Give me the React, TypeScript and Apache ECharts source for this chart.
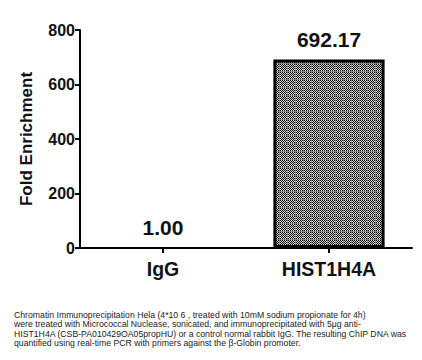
import React, { useEffect, useRef } from "react";
import * as echarts from "echarts";

const categories = ["IgG", "HIST1H4A"];
const values = [1.0, 692.17];
const valueLabels = ["1.00", "692.17"];
const yTicks = { min: 0, max: 800, interval: 200 };
const yAxisName = "Fold Enrichment";
const captionLines = [
  "Chromatin Immunoprecipitation Hela (4*10 6 , treated with 10mM sodium propionate for 4h)",
  "were treated with Micrococcal Nuclease, sonicated, and immunoprecipitated with 5\u03bcg anti-",
  "HIST1H4A (CSB-PA010429OA05propHU) or a control normal rabbit IgG. The resulting ChIP DNA was",
  "quantified using real-time PCR with primers against the \u03b2-Globin promoter.",
];

function makePattern(): HTMLCanvasElement {
  const n = 8;
  const c = document.createElement("canvas");
  c.width = n;
  c.height = n;
  const ctx = c.getContext("2d")!;
  ctx.fillStyle = "#d8d8d8";
  ctx.fillRect(0, 0, n, n);
  for (let y = 0; y < n; y++) {
    for (let x = 0; x < n; x++) {
      if ((x + y) % 2 === 0) {
        ctx.fillStyle = "#000000";
        ctx.fillRect(x, y, 1, 1);
      }
    }
  }
  ctx.fillStyle = "#8a8a8a";
  ctx.fillRect(n - 1, 0, 1, n);
  ctx.fillRect(0, n - 1, n, 1);
  return c;
}

export default function App() {
  const ref = useRef<HTMLDivElement>(null);
  useEffect(() => {
    if (!ref.current) return;
    const chart = echarts.init(ref.current, null, { renderer: "svg" });
    const pattern = makePattern();
    const font = "Liberation Sans";
    chart.setOption({
      animation: false,
      backgroundColor: "#ffffff",
      grid: { left: 80, right: 10, top: 30, bottom: 112 },
      xAxis: {
        type: "category",
        data: categories,
        axisLine: { lineStyle: { color: "#000", width: 2 } },
        axisTick: { show: true, alignWithLabel: true, length: 5, lineStyle: { color: "#000", width: 2 } },
        axisLabel: { color: "#111", fontFamily: font, fontWeight: "bold", fontSize: 19.5, margin: 11 },
      },
      yAxis: {
        type: "value",
        min: yTicks.min,
        max: yTicks.max,
        interval: yTicks.interval,
        name: yAxisName,
        nameLocation: "middle",
        nameGap: 45,
        nameTextStyle: { color: "#111", fontFamily: font, fontWeight: "bold", fontSize: 17 },
        splitLine: { show: false },
        axisLine: { show: true, lineStyle: { color: "#000", width: 2 } },
        axisTick: { show: true, length: 5, lineStyle: { color: "#000", width: 2 } },
        axisLabel: { color: "#111", fontFamily: font, fontWeight: "bold", fontSize: 16, margin: 5 },
      },
      series: [
        {
          type: "bar",
          data: values.map((v, i) => ({
            value: v,
            itemStyle:
              i === 0
                ? { color: "#ffffff", borderColor: "#000", borderWidth: 1 }
                : { color: { image: pattern, repeat: "repeat" }, borderColor: "#000", borderWidth: 3 },
          })),
          barWidth: "67%",
          label: {
            show: true,
            position: "top",
            distance: 9,
            color: "#111",
            fontFamily: font,
            fontWeight: "bold",
            fontSize: 21,
            formatter: (p: any) => valueLabels[p.dataIndex],
          },
        },
      ],
      graphic: captionLines.map((t, i) => ({
        type: "text",
        left: 14,
        top: 310 + i * 9.6,
        style: { text: t, fill: "#222", font: `8.7px ${font}` },
      })),
    });
    return () => chart.dispose();
  }, []);
  return <div ref={ref} style={{ width: 422, height: 360, position: "absolute", left: 0, top: 0 }} />;
}
